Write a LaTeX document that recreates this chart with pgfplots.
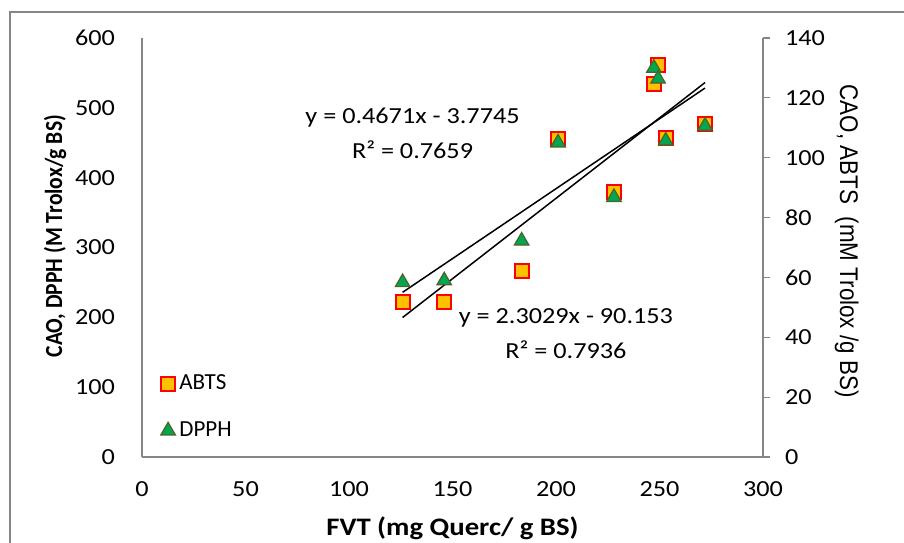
\documentclass[border=0pt]{standalone}
\usepackage{pgfplots}
\pgfplotsset{compat=1.18}
\usepackage{fontspec}
\setmainfont[FakeStretch=1.14]{Carlito}
\newfontfamily\plainfont{Carlito}
\newfontfamily\arialfont{Liberation Sans}

\definecolor{abtsfill}{HTML}{FFC000}
\definecolor{abtsedge}{HTML}{FF0000}
\definecolor{dpphfill}{HTML}{00A650}
\definecolor{dpphedge}{HTML}{4F6228}
\definecolor{axisgray}{HTML}{868686}

% x = FVT, ABTS on the right axis, DPPH on the left axis
\pgfplotstableread{
x      abts   dpph
125.9  51.7   250.0
146.0  51.7   252.6
183.4  62.3   309.5
201.0  106.3  450.0
228.0  88.7   372.0
247.3  124.6  557.0
249.3  131.0  541.5
253.0  106.6  452.7
272.0  111.3  474.0
}\datatable

\pgfplotsset{
  base/.style={
    width=310.5pt, height=209.5pt, scale only axis,
    xmin=0, xmax=300, ymin=0,
    at={(0pt,0pt)}, anchor=south west,
    axis line style={axisgray, line width=0.6pt},
    tick label style={font=\fontsize{11.5}{13}\selectfont},
    /pgf/number format/assume math mode=true,
  },
  abtsmark/.style={only marks, mark=square*, mark size=3.5pt,
    mark options={fill=abtsfill, draw=abtsedge, line width=1pt}},
  dpphmark/.style={only marks, mark=triangle*, mark size=4.2pt,
    mark options={fill=dpphfill, draw=dpphedge, line width=0.6pt}},
}

\begin{document}
\begin{tikzpicture}
\useasboundingbox (-71pt,-42.5pt) rectangle (381pt,228.5pt);

% right axis: ABTS
\begin{axis}[base,
  ymax=140, ytick={0,20,...,140},
  axis x line=none, axis y line*=right,
  tick align=outside, major tick length=3.5pt,
  ytick style={axisgray, line width=0.6pt},
  yticklabel style={xshift=4pt},
  every axis y label/.style={at={(axis description cs:1.135,0.515)},
    rotate=-90, yscale=1.14, anchor=center},
  ylabel={\arialfont\fontsize{11.2}{13}\selectfont CAO, ABTS\ \ (mM Trolox /g BS)},
]
\addplot[abtsmark] table[x=x, y=abts] {\datatable};
\addplot[black, line width=0.75pt] coordinates {(125.9,55.03) (272,123.28)};
\end{axis}

% left axis: DPPH
\begin{axis}[base,
  ymax=600, ytick={0,100,...,600},
  xtick={0,50,...,300},
  axis x line*=bottom, axis y line*=left,
  major tick length=0pt,
  yticklabel style={xshift=-10pt},
  xticklabel style={yshift=-9pt},
  every axis y label/.style={at={(axis description cs:-0.14,0.527)},
    rotate=90, yscale=1.14, anchor=center},
  every axis x label/.style={at={(axis description cs:0.5,-0.17)},
    anchor=center},
  ylabel={\plainfont\bfseries\fontsize{10.8}{12}\selectfont CAO, DPPH (M Trolox/g BS)},
  xlabel={\bfseries\fontsize{12.6}{14}\selectfont FVT (mg Querc/ g BS)},
  legend style={at={(0.02,0.216)}, anchor=north west, draw=none, fill=none,
    font=\plainfont\fontsize{11.5}{13}\selectfont, row sep=10.5pt, cells={anchor=west}},
]
\addlegendimage{abtsmark}
\addlegendentry{ABTS}
\addplot[dpphmark] table[x=x, y=dpph] {\datatable};
\addlegendentry{DPPH}
\addplot[black, line width=0.75pt, forget plot] coordinates {(125.9,199.79) (272,536.24)};
\node[font=\fontsize{11.5}{13}\selectfont] at (axis cs:130.7,486.4) {y = 0.4671x - 3.7745};
\node[font=\fontsize{11.5}{13}\selectfont] at (axis cs:130.7,439.8) {R² = 0.7659};
\node[font=\fontsize{11.5}{13}\selectfont] at (axis cs:204.8,199) {y = 2.3029x - 90.153};
\node[font=\fontsize{11.5}{13}\selectfont] at (axis cs:204.8,153) {R² = 0.7936};
\end{axis}

\draw[axisgray, line width=0.6pt] (-66pt,-45pt) -- (-66pt,222.5pt) -- (385pt,222.5pt);
\end{tikzpicture}
\end{document}
